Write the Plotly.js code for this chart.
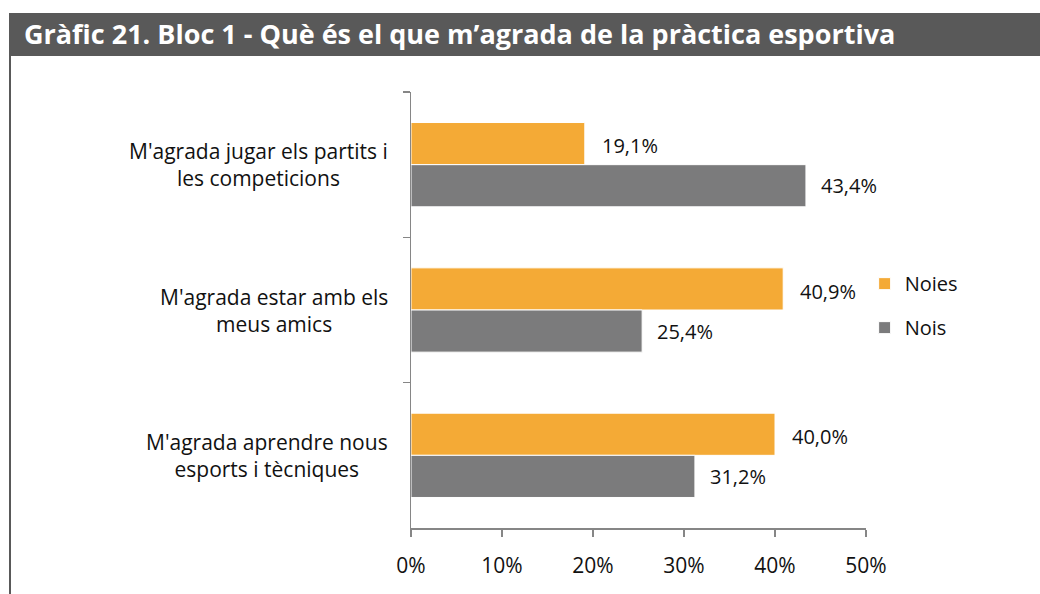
<!DOCTYPE html>
<html>
<head>
<meta charset="utf-8">
<script src="https://cdn.plot.ly/plotly-3.0.1.min.js"></script>
<style>
html,body{margin:0;padding:0;background:#fff;}
#chart{width:1040px;height:594px;}
</style>
</head>
<body>
<div id="chart"></div>
<script>
// ---- data ----
var chartTitle = "Gràfic 21. Bloc 1 - Què és el que m’agrada de la pràctica esportiva";
var categories = ["jugar", "estar", "aprendre"];
var categoryLabels = [
  "M'agrada jugar els partits i<br>les competicions",
  "M'agrada estar amb els<br>meus amics",
  "M'agrada aprendre nous<br>esports i tècniques"
];
var seriesNames = ["Noies", "Nois"];
var noies = [19.1, 40.9, 40.0];
var nois = [43.4, 25.4, 31.2];
var xTickValues = [0, 10, 20, 30, 40, 50];
var xTickLabels = ["0%", "10%", "20%", "30%", "40%", "50%"];

var FONT = "'Open Sans', Lato, sans-serif";
var colors = ["#F4AA36", "#7B7B7C"];

function fmt(v){ return v.toFixed(1).replace(".", ",") + "%"; }

var traces = [
  {type:"bar", orientation:"h", name:seriesNames[0], y:categories, x:noies,
   marker:{color:colors[0], line:{color:"#ffffff", width:1}},
   legendgroup:"a", hoverinfo:"x"},
  {type:"bar", orientation:"h", name:seriesNames[1], y:categories, x:nois,
   marker:{color:colors[1], line:{color:"#ffffff", width:1}},
   legendgroup:"b", hoverinfo:"x"}
];

var annotations = [];
categories.forEach(function(c, i){
  annotations.push({x:noies[i], y:c, xref:"x", yref:"y", text:fmt(noies[i]),
    showarrow:false, xanchor:"left", yanchor:"middle", xshift:15, yshift:19,
    font:{family:FONT, size:20, color:"#111"}});
  annotations.push({x:nois[i], y:c, xref:"x", yref:"y", text:fmt(nois[i]),
    showarrow:false, xanchor:"left", yanchor:"middle", xshift:13, yshift:-21,
    font:{family:FONT, size:20, color:"#111"}});
  annotations.push({x:-0.046, y:c, xref:"paper", yref:"y", text:categoryLabels[i],
    showarrow:false, xanchor:"right", yanchor:"middle", align:"center",
    font:{family:FONT, size:21, color:"#111"}});
});

var layout = {
  width:1040, height:594,
  paper_bgcolor:"#ffffff", plot_bgcolor:"#ffffff",
  margin:{l:411, r:174, t:92, b:66, pad:0},
  title:{text:"<b>"+chartTitle+"</b>", x:24/1040, xanchor:"left", xref:"container",
         y:1-35/594, yanchor:"middle", yref:"container",
         font:{family:FONT, size:27, color:"#ffffff"}},
  barmode:"group", bargap:0.42, bargroupgap:0,
  showlegend:true,
  legend:{x:0.997, xanchor:"left", y:0.51, yanchor:"middle", tracegroupgap:15,
          font:{family:FONT, size:20, color:"#111"}, bgcolor:"rgba(0,0,0,0)"},
  xaxis:{range:[0,50], tickvals:xTickValues, ticktext:xTickLabels,
         showgrid:false, zeroline:false, showline:true, linecolor:"#868686", linewidth:1.5,
         ticks:"outside", ticklen:7, tickcolor:"#868686", tickwidth:1.5,
         ticklabelstandoff:11,
         tickfont:{family:FONT, size:21, color:"#111"}, fixedrange:true},
  yaxis:{type:"category", autorange:"reversed", showgrid:false, zeroline:false,
         showline:true, linecolor:"#868686", linewidth:1.5,
         ticks:"outside", tickson:"boundaries", ticklen:7, tickcolor:"#868686", tickwidth:1.5,
         showticklabels:false, fixedrange:true},
  shapes:[
    {type:"rect", xref:"paper", yref:"paper",
     x0:(9-411)/455, x1:(1040-411)/455, y0:(528-13)/436, y1:(528-56)/436,
     fillcolor:"#595959", line:{width:0}, layer:"below"},
    {type:"line", xref:"paper", yref:"paper",
     x0:(10-411)/455, x1:(10-411)/455, y0:(528-56)/436, y1:(528-600)/436,
     line:{color:"#595959", width:2}, layer:"below"}
  ],
  annotations:annotations
};

Plotly.newPlot("chart", traces, layout, {displayModeBar:false, staticPlot:true});
</script>
</body>
</html>
